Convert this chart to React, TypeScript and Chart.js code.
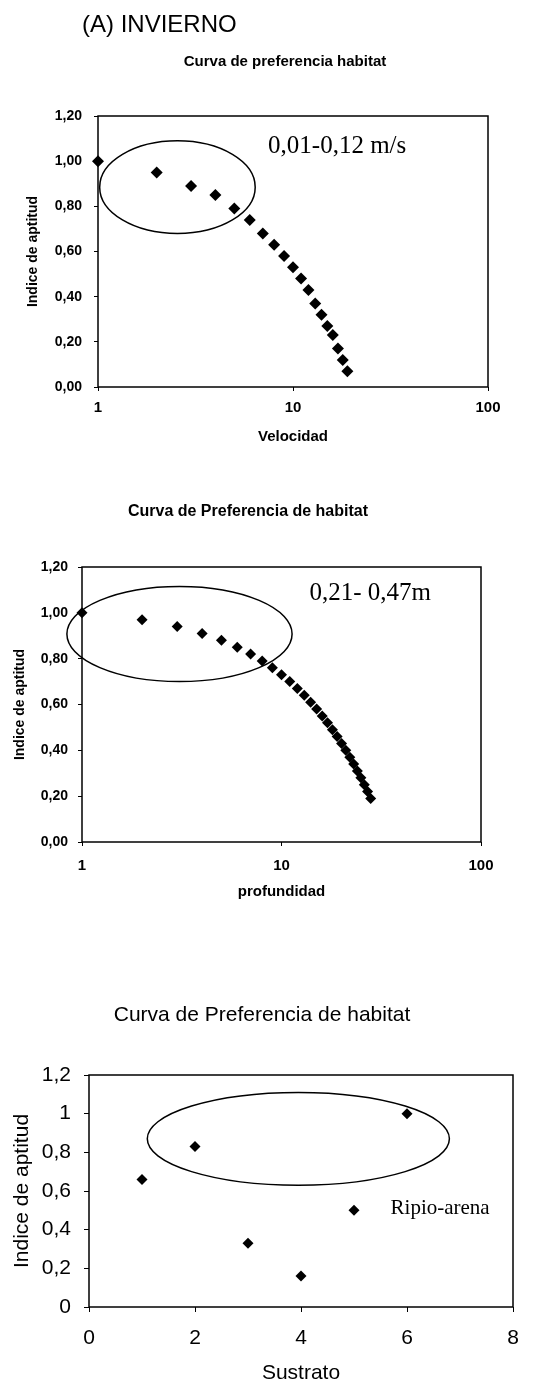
import React, { useEffect, useRef } from 'react';
import { Chart, registerables } from 'chart.js';

Chart.register(...registerables);

// ---------- data ----------
const velocidadX = [1, 2, 3, 4, 5, 6, 7, 8, 9, 10, 11, 12, 13, 14, 15, 16, 17, 18, 19];
const velocidadY = [1.0, 0.95, 0.89, 0.85, 0.79, 0.74, 0.68, 0.63, 0.58, 0.53, 0.48, 0.43, 0.37, 0.32, 0.27, 0.23, 0.17, 0.12, 0.07];

const profundidadX = [1, 2, 3, 4, 5, 6, 7, 8, 9, 10, 11, 12, 13, 14, 15, 16, 17, 18, 19, 20, 21, 22, 23, 24, 25, 26, 27, 28];
const profundidadY = [1.0, 0.97, 0.94, 0.91, 0.88, 0.85, 0.82, 0.79, 0.76, 0.73, 0.7, 0.67, 0.64, 0.61, 0.58, 0.55, 0.52, 0.49, 0.46, 0.43, 0.4, 0.37, 0.34, 0.31, 0.28, 0.25, 0.22, 0.19];

const sustratoX = [1, 2, 3, 4, 5, 6];
const sustratoY = [0.66, 0.83, 0.33, 0.16, 0.5, 1.0];

const logTicks = [1, 10, 100];
const indiceTicks = [0, 0.2, 0.4, 0.6, 0.8, 1.0, 1.2];
const sustratoTicks = [0, 2, 4, 6, 8];

const SANS = '"Liberation Sans", Arial, sans-serif';
const SERIF = '"Liberation Serif", "Times New Roman", serif';

type Ell = { xMin: number; xMax: number; yMin: number; yMax: number };
type Note = { x: number; y: number; text: string; size: number };
type Head = { x: number; y: number; text: string; font: string; align: CanvasTextAlign };

function makeOverlay(ellipse: Ell, note: Note, heads: Head[]) {
  return {
    id: 'overlay',
    afterDraw(chart: any) {
      const ctx = chart.ctx as CanvasRenderingContext2D;
      const { left, top, right, bottom } = chart.chartArea;
      const xs = chart.scales.x;
      const ys = chart.scales.y;
      ctx.save();
      ctx.strokeStyle = '#000';
      ctx.lineWidth = 1.5;
      ctx.strokeRect(left, top, right - left, bottom - top);

      const x1 = xs.getPixelForValue(ellipse.xMin);
      const x2 = xs.getPixelForValue(ellipse.xMax);
      const y1 = ys.getPixelForValue(ellipse.yMax);
      const y2 = ys.getPixelForValue(ellipse.yMin);
      ctx.beginPath();
      ctx.ellipse((x1 + x2) / 2, (y1 + y2) / 2, (x2 - x1) / 2, (y2 - y1) / 2, 0, 0, Math.PI * 2);
      ctx.lineWidth = 1.5;
      ctx.stroke();

      ctx.fillStyle = '#000';
      ctx.font = `${note.size}px ${SERIF}`;
      ctx.textAlign = 'left';
      ctx.textBaseline = 'middle';
      ctx.fillText(note.text, xs.getPixelForValue(note.x), ys.getPixelForValue(note.y));

      for (const h of heads) {
        ctx.font = h.font;
        ctx.textAlign = h.align;
        ctx.textBaseline = 'middle';
        ctx.fillText(h.text, h.x, h.y);
      }
      ctx.restore();
    },
  };
}

type Spec = {
  width: number;
  height: number;
  xs: number[];
  ys: number[];
  xLog: boolean;
  xMin: number;
  xMax: number;
  xTicks: number[];
  xFmt: (v: number) => string;
  yFmt: (v: number) => string;
  xTitle: string;
  yTitle: string;
  tickFont: any;
  xTickFont: any;
  xTitleFont: any;
  yTitleFont: any;
  yAxisWidth: number;
  xAxisHeight: number;
  padTop: number;
  padRight: number;
  yTickPad: number;
  xTickPad: number;
  tickLen: number;
  yTitlePadTop: number;
  xTitlePadBottom: number;
  radius: number;
  ellipse: Ell;
  note: Note;
  heads: Head[];
};

function buildConfig(s: Spec): any {
  return {
    type: 'scatter',
    data: {
      datasets: [
        {
          data: s.xs.map((x, i) => ({ x, y: s.ys[i] })),
          pointStyle: 'rectRot',
          pointRadius: s.radius,
          pointHoverRadius: s.radius,
          backgroundColor: '#000',
          borderColor: '#000',
          borderWidth: 0,
          showLine: false,
          clip: false,
        },
      ],
    },
    options: {
      responsive: false,
      animation: false,
      events: [],
      layout: {
        autoPadding: false,
        padding: { left: 0, right: s.padRight, top: s.padTop, bottom: 0 },
      },
      plugins: {
        legend: { display: false },
        tooltip: { enabled: false },
        title: { display: false },
      },
      scales: {
        x: {
          type: s.xLog ? 'logarithmic' : 'linear',
          min: s.xMin,
          max: s.xMax,
          afterBuildTicks: (sc: any) => {
            sc.ticks = s.xTicks.map((v) => ({ value: v }));
          },
          afterFit: (sc: any) => {
            sc.height = s.xAxisHeight;
          },
          ticks: {
            callback: (v: any) => s.xFmt(Number(v)),
            font: s.xTickFont,
            color: '#000',
            padding: s.xTickPad,
            maxRotation: 0,
            minRotation: 0,
            autoSkip: false,
          },
          grid: {
            display: true,
            drawOnChartArea: false,
            drawTicks: true,
            tickLength: s.tickLen,
            tickColor: '#000',
            color: '#000',
          },
          border: { display: false },
          title: {
            display: true,
            text: s.xTitle,
            font: s.xTitleFont,
            color: '#000',
            padding: { top: 0, bottom: s.xTitlePadBottom },
          },
        },
        y: {
          type: 'linear',
          min: 0,
          max: 1.2,
          afterBuildTicks: (sc: any) => {
            sc.ticks = indiceTicks.map((v) => ({ value: v }));
          },
          afterFit: (sc: any) => {
            sc.width = s.yAxisWidth;
          },
          ticks: {
            callback: (v: any) => s.yFmt(Number(v)),
            font: s.tickFont,
            color: '#000',
            padding: s.yTickPad,
            autoSkip: false,
          },
          grid: {
            display: true,
            drawOnChartArea: false,
            drawTicks: true,
            tickLength: s.tickLen,
            tickColor: '#000',
            color: '#000',
          },
          border: { display: false },
          title: {
            display: true,
            text: s.yTitle,
            font: s.yTitleFont,
            color: '#000',
            padding: { top: s.yTitlePadTop, bottom: 0 },
          },
        },
      },
    },
    plugins: [makeOverlay(s.ellipse, s.note, s.heads)],
  };
}

const fmt2 = (v: number) => v.toFixed(2).replace('.', ',');
const fmt1 = (v: number) => String(Math.round(v * 10) / 10).replace('.', ',');
const fmtInt = (v: number) => String(Math.round(v));

const smallBold = (size: number) => ({ family: SANS, size, weight: 'bold' as const });
const big = (size: number) => ({ family: SANS, size, weight: 'normal' as const });

const spec1: Spec = {
  width: 536,
  height: 460,
  xs: velocidadX,
  ys: velocidadY,
  xLog: true,
  xMin: 1,
  xMax: 100,
  xTicks: logTicks,
  xFmt: fmtInt,
  yFmt: fmt2,
  xTitle: 'Velocidad',
  yTitle: 'Indice de aptitud',
  tickFont: smallBold(14),
  xTickFont: smallBold(15),
  xTitleFont: smallBold(15),
  yTitleFont: smallBold(14),
  yAxisWidth: 98,
  xAxisHeight: 73,
  padTop: 116,
  padRight: 48,
  yTickPad: 12,
  xTickPad: 8,
  tickLen: 4,
  yTitlePadTop: 25,
  xTitlePadBottom: 14,
  radius: 6,
  ellipse: { xMin: 1.02, xMax: 6.4, yMin: 0.68, yMax: 1.09 },
  note: { x: 7.45, y: 1.065, text: '0,01-0,12 m/s', size: 25 },
  heads: [
    { x: 82, y: 25, text: '(A) INVIERNO', font: `24px ${SANS}`, align: 'left' },
    { x: 285, y: 62, text: 'Curva de preferencia habitat', font: `bold 15px ${SANS}`, align: 'center' },
  ],
};

const spec2: Spec = {
  width: 536,
  height: 460,
  xs: profundidadX,
  ys: profundidadY,
  xLog: true,
  xMin: 1,
  xMax: 100,
  xTicks: logTicks,
  xFmt: fmtInt,
  yFmt: fmt2,
  xTitle: 'profundidad',
  yTitle: 'Indice de aptitud',
  tickFont: smallBold(14),
  xTickFont: smallBold(15),
  xTitleFont: smallBold(15),
  yTitleFont: smallBold(14),
  yAxisWidth: 82,
  xAxisHeight: 78,
  padTop: 107,
  padRight: 55,
  yTickPad: 10,
  xTickPad: 11,
  tickLen: 4,
  yTitlePadTop: 12,
  xTitlePadBottom: 19,
  radius: 5.5,
  ellipse: { xMin: 0.84, xMax: 11.3, yMin: 0.7, yMax: 1.115 },
  note: { x: 13.8, y: 1.086, text: '0,21- 0,47m', size: 25 },
  heads: [
    { x: 248, y: 52, text: 'Curva de Preferencia de habitat', font: `bold 16px ${SANS}`, align: 'center' },
  ],
};

const spec3: Spec = {
  width: 536,
  height: 466,
  xs: sustratoX,
  ys: sustratoY,
  xLog: false,
  xMin: 0,
  xMax: 8,
  xTicks: sustratoTicks,
  xFmt: fmtInt,
  yFmt: fmt1,
  xTitle: 'Sustrato',
  yTitle: 'Indice de aptitud',
  tickFont: big(21),
  xTickFont: big(21),
  xTitleFont: big(21),
  yTitleFont: big(21),
  yAxisWidth: 89,
  xAxisHeight: 79,
  padTop: 155,
  padRight: 23,
  yTickPad: 13,
  xTickPad: 14,
  tickLen: 5,
  yTitlePadTop: 10,
  xTitlePadBottom: 0,
  radius: 5.5,
  ellipse: { xMin: 1.1, xMax: 6.8, yMin: 0.63, yMax: 1.11 },
  note: { x: 5.69, y: 0.51, text: 'Ripio-arena', size: 21 },
  heads: [
    { x: 262, y: 95, text: 'Curva de Preferencia de habitat', font: `21px ${SANS}`, align: 'center' },
  ],
};

function ChartBox({ spec, top }: { spec: Spec; top: number }) {
  const ref = useRef<HTMLCanvasElement | null>(null);
  useEffect(() => {
    if (!ref.current) return;
    const chart = new Chart(ref.current, buildConfig(spec));
    return () => chart.destroy();
  }, [spec]);
  return (
    <div style={{ position: 'absolute', left: 0, top, width: spec.width, height: spec.height }}>
      <canvas ref={ref} width={spec.width} height={spec.height} style={{ display: 'block', width: spec.width, height: spec.height }} />
    </div>
  );
}

export default function App() {
  return (
    <div style={{ position: 'absolute', left: 0, top: 0, width: 536, height: 1386, background: '#fff', overflow: 'hidden' }}>
      <ChartBox spec={spec1} top={0} />
      <ChartBox spec={spec2} top={460} />
      <ChartBox spec={spec3} top={920} />
    </div>
  );
}
